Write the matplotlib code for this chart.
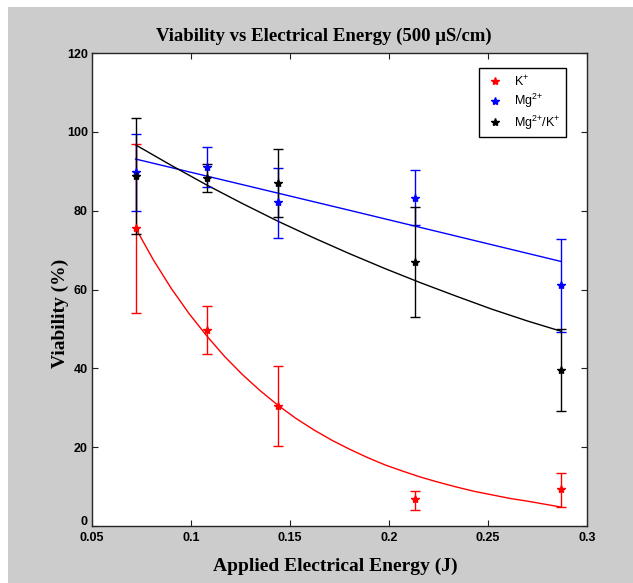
import matplotlib
matplotlib.use("Agg")
import matplotlib.pyplot as plt
from matplotlib.patches import Rectangle
from matplotlib.transforms import ScaledTranslation

# measured points (energy in J, viability in %)
energy = [0.072, 0.108, 0.144, 0.213, 0.287]

k_mean = [75.6, 49.6, 30.5, 6.8, 9.4]
k_low = [54.1, 43.6, 20.4, 4.1, 4.8]
k_high = [97.0, 55.8, 40.7, 9.0, 13.5]

mg_mean = [89.8, 91.0, 82.1, 83.3, 61.1]
mg_low = [80.0, 86.0, 73.0, 76.3, 49.1]
mg_high = [99.4, 96.1, 90.9, 90.4, 72.8]

mgk_mean = [88.7, 88.4, 87.1, 66.9, 39.7]
mgk_low = [74.0, 84.7, 78.5, 53.0, 29.2]
mgk_high = [103.6, 91.9, 95.6, 81.0, 50.0]

# fitted curves
fit_x = [0.072, 0.081, 0.09, 0.099, 0.108, 0.117, 0.126, 0.135, 0.144, 0.153,
         0.162, 0.171, 0.18, 0.189, 0.198, 0.207, 0.216, 0.225, 0.234, 0.243,
         0.252, 0.261, 0.27, 0.279, 0.287]
k_fit_y = [75.6, 67.5, 60.3, 53.9, 48.2, 43.0, 38.4, 34.3, 30.6, 27.3,
           24.4, 21.8, 19.5, 17.4, 15.5, 13.9, 12.4, 11.1, 9.9, 8.8,
           7.9, 7.0, 6.3, 5.5, 4.8]

mg_fit_x = [0.072, 0.18, 0.287]
mg_fit_y = [93.1, 80.1, 67.1]

mgk_fit_x = [0.072, 0.09, 0.108, 0.126, 0.144, 0.162, 0.18, 0.198, 0.216,
             0.234, 0.252, 0.27, 0.287]
mgk_fit_y = [96.7, 91.5, 86.5, 81.8, 77.3, 73.1, 69.1, 65.3, 61.7,
             58.3, 55.0, 52.0, 49.4]

x_ticks = [0.05, 0.1, 0.15, 0.2, 0.25, 0.3]
x_tick_labels = ["0.05", "0.1", "0.15", "0.2", "0.25", "0.3"]
y_ticks = [0, 20, 40, 60, 80, 100, 120]


def errs(mean, low, high):
    return [[m - l for m, l in zip(mean, low)], [h - m for m, h in zip(mean, high)]]


def main():
    plt.rcParams["mathtext.fontset"] = "custom"
    plt.rcParams["mathtext.rm"] = "Liberation Sans"
    plt.rcParams["mathtext.it"] = "Liberation Sans"

    fig = plt.figure(figsize=(6.33, 5.83), dpi=100)
    fig.patch.set_facecolor("white")
    fig.patches.append(Rectangle((8 / 633, 0), 1, 1 - 7 / 583, transform=fig.transFigure,
                                 facecolor="#cccccc", edgecolor="none", zorder=-10))

    ax = fig.add_axes([92 / 633, 1 - 526 / 583, 495 / 633, 473 / 583])
    ax.set_facecolor("white")

    series = [
        (k_mean, k_low, k_high, fit_x, k_fit_y, "#ff0000", r"K$^{+}$"),
        (mg_mean, mg_low, mg_high, mg_fit_x, mg_fit_y, "#0000ff", r"Mg$^{2{+}}$"),
        (mgk_mean, mgk_low, mgk_high, mgk_fit_x, mgk_fit_y, "#000000",
         r"Mg$^{2{+}}$/K$^{+}$"),
    ]
    handles = []
    for mean, low, high, fx, fy, col, lab in series:
        ax.errorbar(energy, mean, yerr=errs(mean, low, high), fmt="none", ecolor=col,
                    elinewidth=1.0, capsize=3.5, capthick=1.0, zorder=3)
        h, = ax.plot(energy, mean, linestyle="none", marker="*", markersize=6,
                     color=col, label=lab, zorder=4)
        ax.plot(fx, fy, color=col, linewidth=1.0, zorder=2)
        handles.append(h)

    ax.set_xlim(0.05, 0.3)
    ax.set_ylim(0, 120)
    ax.set_xticks(x_ticks)
    ax.set_xticklabels(x_tick_labels)
    ax.set_yticks(y_ticks)
    ax.tick_params(direction="in", length=4, width=0.8, top=True, right=True,
                   labelsize=9, colors="#202020")
    ax.tick_params(axis="x", pad=4)
    ax.tick_params(axis="y", pad=3)
    for lbl in ax.get_xticklabels() + ax.get_yticklabels():
        lbl.set_fontfamily("Liberation Sans")
        lbl.set_fontweight("bold")
        lbl.set_color("black")
    # the "0" label sits a little higher, as in the original
    zero = ax.get_yticklabels()[0]
    zero.set_transform(zero.get_transform() + ScaledTranslation(0, 4 / 72, fig.dpi_scale_trans))
    for sp in ax.spines.values():
        sp.set_linewidth(1.0)
        sp.set_color("#262626")

    leg = ax.legend(handles=handles, loc="upper right", bbox_to_anchor=(0.958, 0.968),
                    borderaxespad=0, fancybox=False, framealpha=1, edgecolor="black",
                    prop={"family": "Liberation Sans", "size": 9}, handlelength=1.8,
                    handletextpad=0.6, labelspacing=0.25, borderpad=0.45)
    leg.get_frame().set_linewidth(1.0)

    fig.text(324 / 633, 1 - 36 / 583, "Viability vs Electrical Energy (500 \u03bcS/cm)",
             ha="center", va="center", fontsize=13.5, fontweight="bold",
             family="Liberation Serif")
    fig.text(335 / 633, 1 - 566 / 583, "Applied Electrical Energy (J)", ha="center",
             va="center", fontsize=14, fontweight="bold", family="Liberation Serif")
    fig.text(60 / 633, 1 - 313 / 583, "Viability (%)", ha="center", va="center",
             rotation=90, fontsize=14, fontweight="bold", family="Liberation Serif")

    fig.savefig("out.png", dpi=100)


if __name__ == "__main__":
    main()
